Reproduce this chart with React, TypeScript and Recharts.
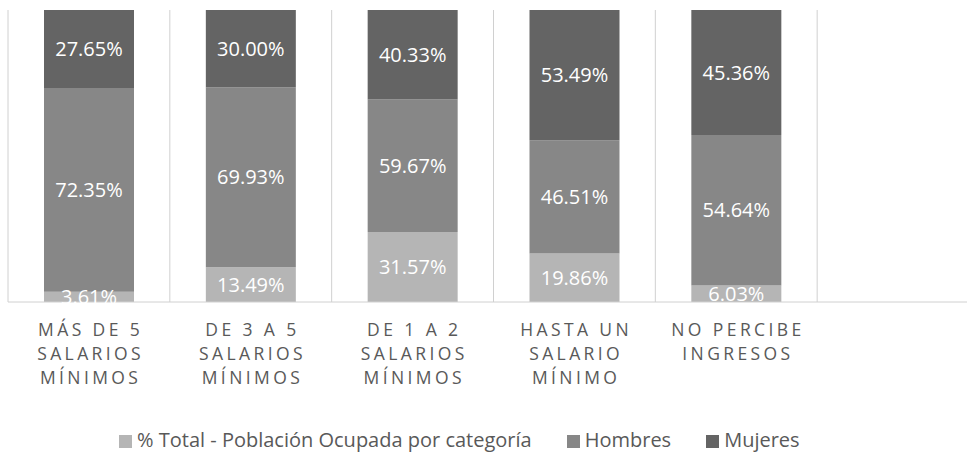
import React from "react";
import { BarChart, Bar, XAxis, YAxis, CartesianGrid, LabelList, Legend } from "recharts";

const categories = [
  "MÁS DE 5 SALARIOS MÍNIMOS",
  "DE 3 A 5 SALARIOS MÍNIMOS",
  "DE 1 A 2 SALARIOS MÍNIMOS",
  "HASTA UN SALARIO MÍNIMO",
  "NO PERCIBE INGRESOS",
  " ",
];
const tickLines: string[][] = [
  ["MÁS DE 5", "SALARIOS", "MÍNIMOS"],
  ["DE 3 A 5", "SALARIOS", "MÍNIMOS"],
  ["DE 1 A 2", "SALARIOS", "MÍNIMOS"],
  ["HASTA UN", "SALARIO", "MÍNIMO"],
  ["NO PERCIBE", "INGRESOS"],
  [],
];
const totalValues = [3.61, 13.49, 31.57, 19.86, 6.03, null];
const hombresValues = [72.35, 69.93, 59.67, 46.51, 54.64, null];
const mujeresValues = [27.65, 30.0, 40.33, 53.49, 45.36, null];

const seriesNames = {
  total: "% Total - Población Ocupada por categoría",
  hombres: "Hombres",
  mujeres: "Mujeres",
};
const colors = { total: "#b5b5b5", hombres: "#878787", mujeres: "#646464" };

const data = categories.map((name, i) => ({
  name,
  total: totalValues[i],
  hombres: hombresValues[i],
  mujeres: mujeresValues[i],
}));

const FONT = "'Open Sans', sans-serif";

const fmt = (v: any) => (v === null || v === undefined ? "" : `${Number(v).toFixed(2)}%`);

const CategoryTick = (props: any) => {
  const { x, y, payload } = props;
  const idx = categories.indexOf(payload.value);
  const lines = idx >= 0 ? tickLines[idx] : [];
  const ls = 3.4;
  return (
    <g transform={`translate(${x},${y})`}>
      <text textAnchor="middle" fill="#595959" fontFamily={FONT} fontSize={17.5} letterSpacing={ls}>
        {lines.map((l, i) => (
          <tspan key={i} x={ls / 2} dy={i === 0 ? 34 : 24}>
            {l}
          </tspan>
        ))}
      </text>
    </g>
  );
};

const LegendContent = (props: any) => {
  const { payload } = props;
  return (
    <div
      style={{
        fontFamily: FONT,
        fontSize: 20,
        lineHeight: "24px",
        color: "#595959",
        whiteSpace: "nowrap",
        paddingLeft: 119,
        textAlign: "left",
      }}
    >
      {(payload || []).map((p: any, i: number) => (
        <span key={i} style={{ marginRight: 35 }}>
          <span
            style={{
              display: "inline-block",
              width: 13,
              height: 13,
              background: p.color,
              verticalAlign: "baseline",
              marginRight: 5,
              marginBottom: -1,
            }}
          />
          {p.value}
        </span>
      ))}
    </div>
  );
};

const gridGen = ({ offset }: any) => {
  const n = categories.length;
  const out: number[] = [];
  for (let i = 0; i <= n; i++) out.push(offset.left + (i * offset.width) / n);
  return out;
};

export default function App() {
  return (
    <div style={{ position: "absolute", left: 0, top: 0, width: 967, height: 454, overflow: "hidden", background: "#fff" }}>
      <BarChart
        width={990}
        height={454}
        data={data}
        stackOffset="expand"
        margin={{ top: 10, right: 11, bottom: 52, left: 8 }}
      >
        <CartesianGrid horizontal={false} vertical stroke="#d0d0d0" verticalCoordinatesGenerator={gridGen} />
        <XAxis
          dataKey="name"
          axisLine={{ stroke: "#d0d0d0" }}
          tickLine={false}
          tickSize={0}
          tickMargin={0}
          height={100}
          interval={0}
          tick={<CategoryTick />}
        />
        <YAxis hide domain={[0, 1]} />
        <Legend
          layout="horizontal"
          verticalAlign="middle"
          align="center"
          wrapperStyle={{ left: 0, top: 428, width: 967, height: 24 }}
          content={<LegendContent />}
        />
        <Bar dataKey="total" name={seriesNames.total} stackId="a" fill={colors.total} barSize={90} isAnimationActive={false}>
          <LabelList dataKey="total" position="center" formatter={fmt} fill="#ffffff" fontFamily={FONT} fontSize={20} />
        </Bar>
        <Bar dataKey="hombres" name={seriesNames.hombres} stackId="a" fill={colors.hombres} barSize={90} isAnimationActive={false}>
          <LabelList dataKey="hombres" position="center" formatter={fmt} fill="#ffffff" fontFamily={FONT} fontSize={20} />
        </Bar>
        <Bar dataKey="mujeres" name={seriesNames.mujeres} stackId="a" fill={colors.mujeres} barSize={90} isAnimationActive={false}>
          <LabelList dataKey="mujeres" position="center" formatter={fmt} fill="#ffffff" fontFamily={FONT} fontSize={20} />
        </Bar>
      </BarChart>
    </div>
  );
}
